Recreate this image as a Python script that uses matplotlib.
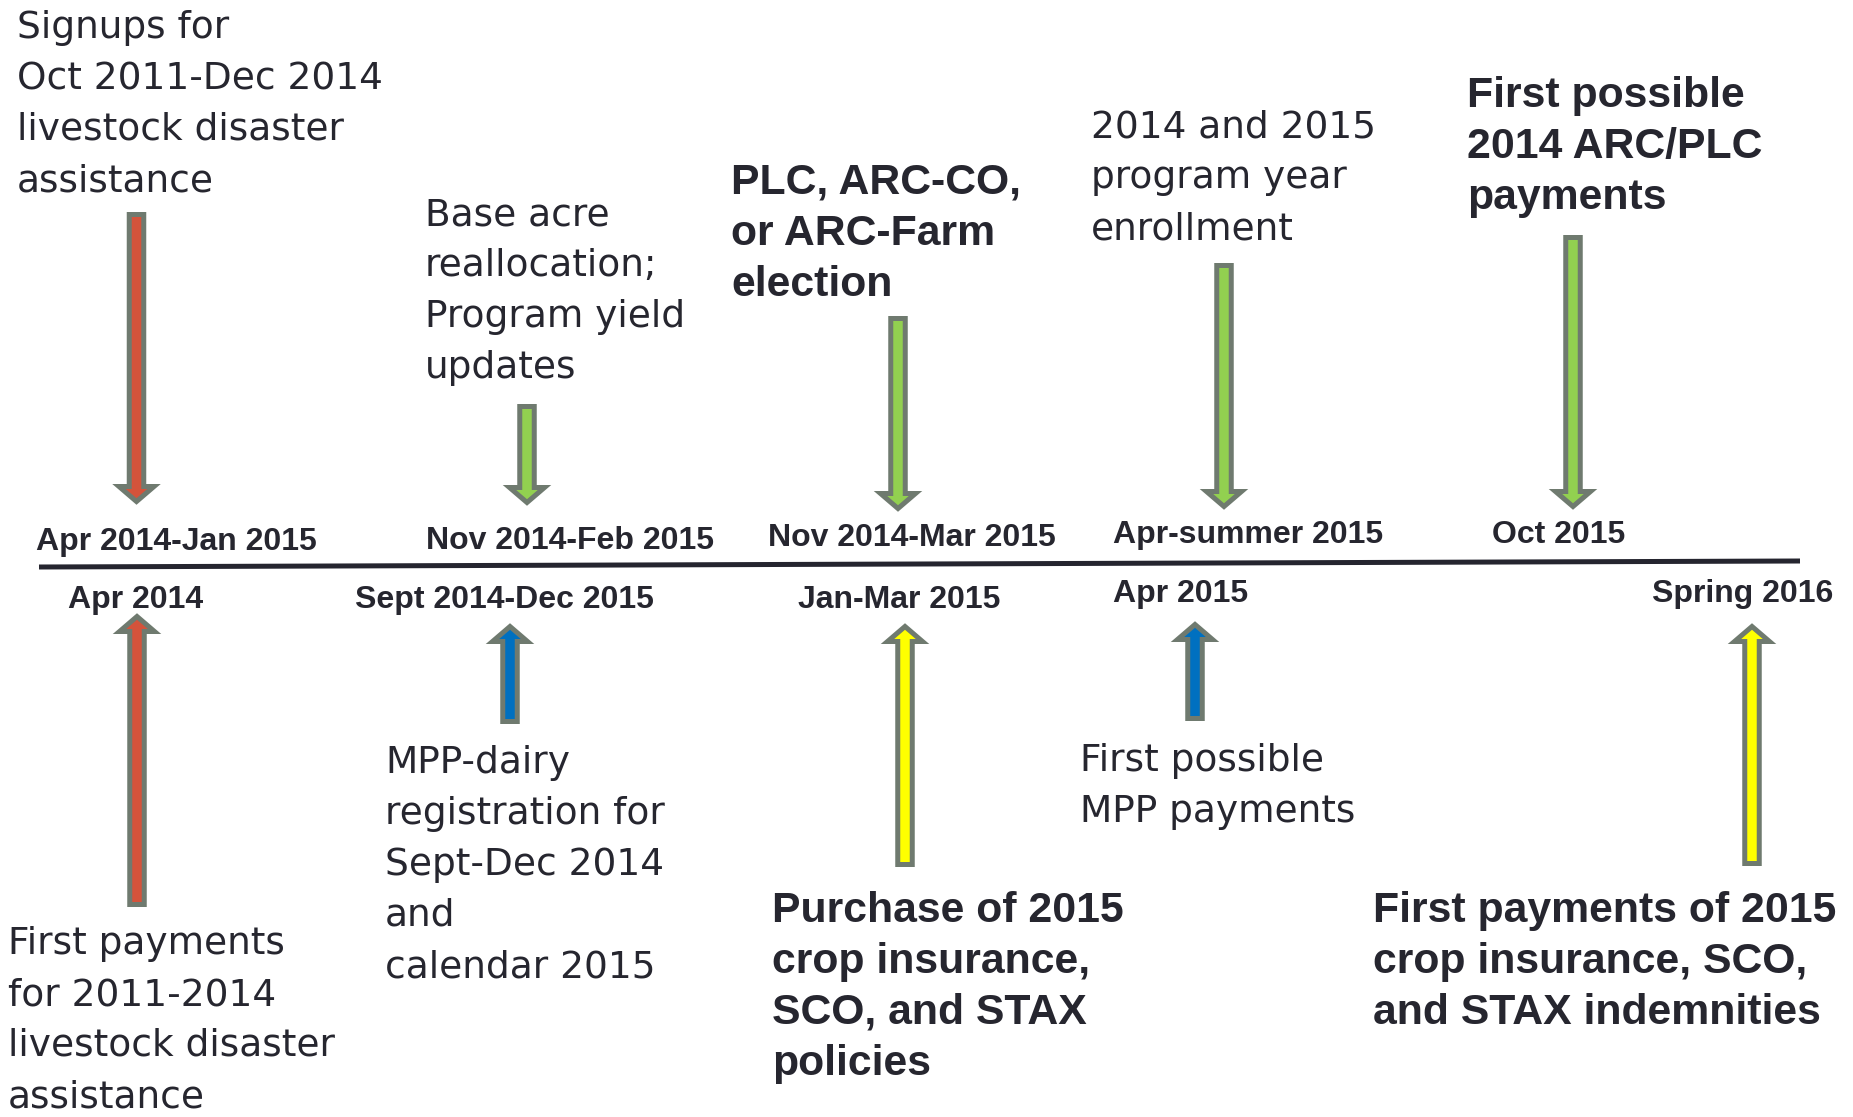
import matplotlib
matplotlib.use("Agg")
import matplotlib.pyplot as plt
from matplotlib.patches import FancyArrow

# events above the timeline (arrow points down onto the line)
top_dates = ["Apr 2014-Jan 2015", "Nov 2014-Feb 2015", "Nov 2014-Mar 2015",
             "Apr-summer 2015", "Oct 2015"]
top_events = [
    ["Signups for", "Oct 2011-Dec 2014", "livestock disaster", "assistance"],
    ["Base acre", "reallocation;", "Program yield", "updates"],
    ["PLC, ARC-CO,", "or ARC-Farm", "election"],
    ["2014 and 2015", "program year", "enrollment"],
    ["First possible", "2014 ARC/PLC", "payments"],
]
top_bold = [False, False, True, False, True]
top_program = ["livestock", "arcplc", "arcplc", "arcplc", "arcplc"]

# events below the timeline (arrow points up onto the line)
bottom_dates = ["Apr 2014", "Sept 2014-Dec 2015", "Jan-Mar 2015", "Apr 2015", "Spring 2016"]
bottom_events = [
    ["First payments", "for 2011-2014", "livestock disaster", "assistance"],
    ["MPP-dairy", "registration for", "Sept-Dec 2014", "and", "calendar 2015"],
    ["Purchase of 2015", "crop insurance,", "SCO, and STAX", "policies"],
    ["First possible", "MPP payments"],
    ["First payments of 2015", "crop insurance, SCO,", "and STAX indemnities"],
]
bottom_bold = [False, False, True, False, True]
bottom_program = ["livestock", "dairy", "insurance", "dairy", "insurance"]

program_colors = {"livestock": "#d4533b", "arcplc": "#92d050",
                  "dairy": "#0070c0", "insurance": "#ffff00"}

# layout in pixels (figure is 1853 x 1117)
W, H = 1853, 1117
top_arrow_x = [136.5, 527, 898, 1224, 1573]
top_arrow_tail = [212, 404, 316, 263, 235]
top_arrow_tip = [505, 506, 512, 510, 510]
top_date_x = [176, 570, 912, 1248, 1559]
top_date_y = [550, 549, 546, 543, 543]
top_text_x = [17, 425, 731, 1091, 1467]
top_text_y = [38, 225, 194, 137, 107]

bot_arrow_x = [137, 510, 905, 1195, 1752]
bot_arrow_tail = [907, 724, 867, 721, 866]
bot_arrow_tip = [613, 623, 623, 621, 623]
bot_date_x = [136, 504, 899, 1181, 1743]
bot_date_y = [608, 608, 608, 602, 602]
bot_text_x = [8, 385, 772, 1080, 1373]
bot_text_y = [954, 773, 922, 771, 922]

LINE_GAP = 51
TXT = "#26262f"
BORDER = "#6f7a6f"

fig = plt.figure(figsize=(W / 100, H / 100), dpi=100)
ax = fig.add_axes([0, 0, 1, 1])
ax.set_xlim(0, W)
ax.set_ylim(H, 0)
ax.axis("off")

# timeline
ax.plot([39, 1800], [567, 561], color="#25252f", lw=3.6, solid_capstyle="butt")


def draw_arrow(x, tail, tip, color):
    lw_px = 5
    sgn = 1 if tip > tail else -1
    start = tail + sgn * lw_px / 2
    end = tip - sgn * 3.5
    ax.add_patch(FancyArrow(x, start, 0, end - start, width=14.5, head_width=35,
                            head_length=15, length_includes_head=True,
                            facecolor=color, edgecolor=BORDER, lw=lw_px * 0.72,
                            joinstyle="miter"))


def draw_block(lines, x, y, bold):
    for i, line in enumerate(lines):
        if bold:
            ax.text(x, y + i * LINE_GAP, line, fontsize=30.8, fontweight="bold",
                    family="Liberation Sans", color=TXT, ha="left", va="baseline")
        else:
            ax.text(x, y + i * LINE_GAP, line, fontsize=27, family="DejaVu Sans",
                    color=TXT, ha="left", va="baseline")


for i in range(len(top_dates)):
    draw_arrow(top_arrow_x[i], top_arrow_tail[i], top_arrow_tip[i], program_colors[top_program[i]])
    ax.text(top_date_x[i], top_date_y[i], top_dates[i], fontsize=23, fontweight="bold",
            family="Liberation Sans", color=TXT, ha="center", va="baseline")
    draw_block(top_events[i], top_text_x[i], top_text_y[i], top_bold[i])

for i in range(len(bottom_dates)):
    draw_arrow(bot_arrow_x[i], bot_arrow_tail[i], bot_arrow_tip[i], program_colors[bottom_program[i]])
    ax.text(bot_date_x[i], bot_date_y[i], bottom_dates[i], fontsize=23, fontweight="bold",
            family="Liberation Sans", color=TXT, ha="center", va="baseline")
    draw_block(bottom_events[i], bot_text_x[i], bot_text_y[i], bottom_bold[i])

fig.savefig("out.png", dpi=100, facecolor="white")
